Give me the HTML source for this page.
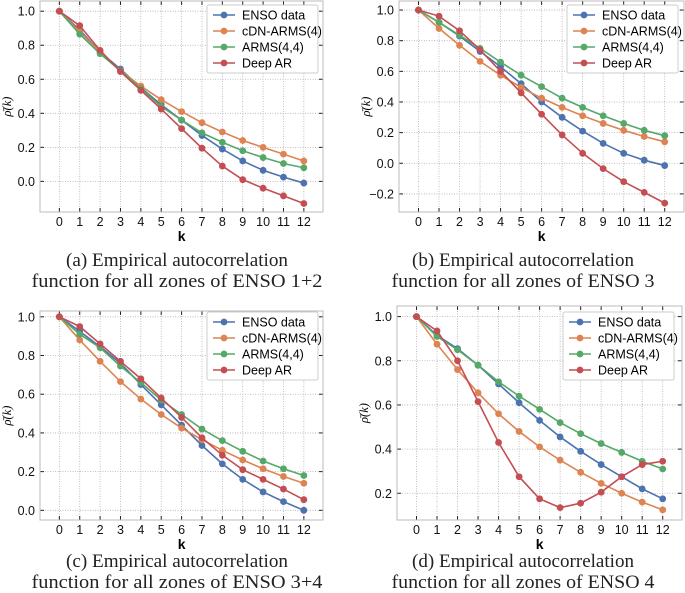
<!DOCTYPE html>
<html><head><meta charset="utf-8"><style>
body{margin:0;background:#fff;width:685px;height:593px;overflow:hidden}
svg{position:absolute;left:0;top:0}
</style></head><body>
<svg id="s" width="685" height="593"></svg>
<script>
const lags=[0,1,2,3,4,5,6,7,8,9,10,11,12];
const seriesNames=["ENSO data","cDN-ARMS(4)","ARMS(4,4)","Deep AR"];
const colors=["#4C72B0","#DD8452","#55A868","#C44E52"];
const aEnso=[1,0.89,0.76,0.66,0.55,0.45,0.36,0.27,0.19,0.12,0.065,0.025,-0.01];
const aCdn=[1,0.88,0.76,0.65,0.56,0.48,0.41,0.345,0.29,0.24,0.2,0.16,0.12];
const aArms=[1,0.865,0.75,0.65,0.545,0.44,0.36,0.285,0.23,0.18,0.14,0.105,0.08];
const aDeep=[1,0.915,0.77,0.645,0.535,0.425,0.31,0.195,0.09,0.01,-0.04,-0.085,-0.13];
const bEnso=[1,0.92,0.83,0.73,0.63,0.52,0.40,0.30,0.21,0.13,0.065,0.02,-0.015];
const bCdn=[1,0.88,0.77,0.665,0.575,0.495,0.425,0.365,0.31,0.26,0.215,0.175,0.14];
const bArms=[1,0.92,0.835,0.75,0.66,0.575,0.50,0.425,0.365,0.31,0.26,0.215,0.18];
const bDeep=[1,0.96,0.865,0.74,0.60,0.46,0.32,0.185,0.065,-0.035,-0.12,-0.19,-0.26];
const cEnso=[1,0.925,0.845,0.76,0.65,0.545,0.44,0.335,0.24,0.16,0.095,0.045,0.0];
const cCdn=[1,0.88,0.77,0.665,0.575,0.495,0.425,0.365,0.31,0.26,0.215,0.175,0.14];
const cArms=[1,0.91,0.84,0.745,0.66,0.57,0.495,0.42,0.36,0.305,0.255,0.215,0.18];
const cDeep=[1,0.95,0.86,0.77,0.68,0.58,0.48,0.375,0.285,0.21,0.16,0.11,0.055];
const dEnso=[1,0.915,0.855,0.78,0.695,0.61,0.53,0.455,0.39,0.33,0.275,0.22,0.175];
const dCdn=[1,0.875,0.76,0.655,0.56,0.48,0.41,0.35,0.295,0.245,0.2,0.16,0.125];
const dArms=[1,0.91,0.85,0.78,0.705,0.64,0.58,0.52,0.47,0.425,0.385,0.345,0.31];
const dDeep=[1,0.935,0.80,0.615,0.43,0.275,0.175,0.135,0.155,0.205,0.275,0.33,0.345];
const aTicks=[0,0.2,0.4,0.6,0.8,1.0];
const bTicks=[-0.2,0,0.2,0.4,0.6,0.8,1.0];
const cTicks=[0,0.2,0.4,0.6,0.8,1.0];
const dTicks=[0.2,0.4,0.6,0.8,1.0];
const captions=[["(a) Empirical autocorrelation","function for all zones of ENSO 1+2"],["(b) Empirical autocorrelation","function for all zones of ENSO 3"],["(c) Empirical autocorrelation","function for all zones of ENSO 3+4"],["(d) Empirical autocorrelation","function for all zones of ENSO 4"]];

const NS="http://www.w3.org/2000/svg";
const svg=document.getElementById('s');
function el(t,a,p){const e=document.createElementNS(NS,t);for(const k in a)e.setAttribute(k,a[k]);(p||svg).appendChild(e);return e;}

const panels=[
 {id:'a',L:40,R:323,T:1,B:212,ymin:-0.18,ymax:1.06,ticks:aTicks,data:[aEnso,aCdn,aArms,aDeep],cx:177,cy:260,leg:[207,5],w2:291},
 {id:'b',L:399,R:684,T:1,B:212,ymin:-0.318,ymax:1.059,ticks:bTicks,data:[bEnso,bCdn,bArms,bDeep],cx:523,cy:260,leg:[567,5],w2:263},
 {id:'c',L:40,R:323,T:311,B:520,ymin:-0.05,ymax:1.03,ticks:cTicks,data:[cEnso,cCdn,cArms,cDeep],cx:177,cy:561,leg:[207,312],w2:291},
 {id:'d',L:397,R:682,T:306,B:520,ymin:0.079,ymax:1.048,ticks:dTicks,data:[dEnso,dCdn,dArms,dDeep],cx:523,cy:561,leg:[563,312],w2:263}
];
panels.forEach((p,pi)=>{
 const g=el('g',{});
 
 
 const x0=p.L+(p.R-p.L)*0.95/13.89;
 const xs=k=>x0+k*(p.R-p.L)/13.89;
 const ys=v=>p.B-(v-p.ymin)/(p.ymax-p.ymin)*(p.B-p.T);
 lags.forEach(k=>{
  el('line',{x1:xs(k),x2:xs(k),y1:p.T,y2:p.B,stroke:'#b0b0b0','stroke-width':0.8,'stroke-dasharray':'1,1.5'},g);
  el('line',{x1:xs(k),x2:xs(k),y1:p.B,y2:p.B-4,stroke:'#222','stroke-width':1},g);
  el('line',{x1:xs(k),x2:xs(k),y1:p.T,y2:p.T+4,stroke:'#222','stroke-width':1},g);
  const t=el('text',{x:xs(k),y:p.B+14,'text-anchor':'middle','font-size':12.5,'font-family':'Liberation Sans, sans-serif',fill:'#111'},g);t.textContent=k;
 });
 p.ticks.forEach(v=>{
  el('line',{x1:p.L,x2:p.R,y1:ys(v),y2:ys(v),stroke:'#b0b0b0','stroke-width':0.8,'stroke-dasharray':'1,1.5'},g);
  el('line',{x1:p.L,x2:p.L+4,y1:ys(v),y2:ys(v),stroke:'#222'},g);
  el('line',{x1:p.R,x2:p.R-4,y1:ys(v),y2:ys(v),stroke:'#222'},g);
  const t=el('text',{x:p.L-5,y:ys(v)+4.5,'text-anchor':'end','font-size':12.5,'font-family':'Liberation Sans, sans-serif',fill:'#111'},g);t.textContent=(v<0?'\u2212'+(-v).toFixed(1):v.toFixed(1));
 });
 el('rect',{x:p.L,y:p.T,width:p.R-p.L,height:p.B-p.T,fill:'none',stroke:'#bbb','stroke-width':1},g);
 p.data.forEach((arr,si)=>{
  const pts=arr.map((v,k)=>xs(lags[k])+','+ys(v)).join(' ');
  const line=el('polyline',{points:pts,fill:'none',stroke:colors[si],'stroke-width':1.6},g);
  
  
  arr.forEach((v,k)=>{el('circle',{cx:xs(lags[k]),cy:ys(v),r:3.4,fill:colors[si]},g);});
 });
 const xl=el('text',{x:(xs(0)+xs(12))/2,y:p.B+29,'text-anchor':'middle','font-size':14,'font-weight':'bold','font-family':'Liberation Sans, sans-serif'},g);xl.textContent='k';
 const yl=el('text',{transform:`translate(${p.L-29},${(p.T+p.B)/2}) rotate(-90)`,'text-anchor':'middle','font-size':12.5,'font-style':'italic','font-family':'Liberation Serif, serif'},g);yl.textContent='\u03C1\u0304(k)';
 const lg=el('g',{},g);
 
 
 const [lx,ly]=p.leg;
 el('rect',{x:lx,y:ly,width:111,height:68,fill:'#fff',stroke:'#ccc','stroke-width':1,rx:2},lg);
 seriesNames.forEach((n,si)=>{
  const yy=ly+10+si*16;
  el('line',{x1:lx+6,x2:lx+28,y1:yy,y2:yy,stroke:colors[si],'stroke-width':1.6},lg);
  el('circle',{cx:lx+17,cy:yy,r:3.4,fill:colors[si]},lg);
  const t=el('text',{x:lx+35,y:yy+4.5,'font-size':12.5,'font-family':'Liberation Sans, sans-serif'},lg);t.textContent=n;
 });
 captions[pi].forEach((c,li)=>{
  const t=el('text',{x:p.cx,y:p.cy+li*21+6,'text-anchor':'middle','font-size':19,'font-family':'Liberation Serif, serif',fill:'#222',textLength:(li==0?222:p.w2),lengthAdjust:'spacingAndGlyphs'},g);
  
  
  t.textContent=c;
 });
});
</script>
</body></html>
